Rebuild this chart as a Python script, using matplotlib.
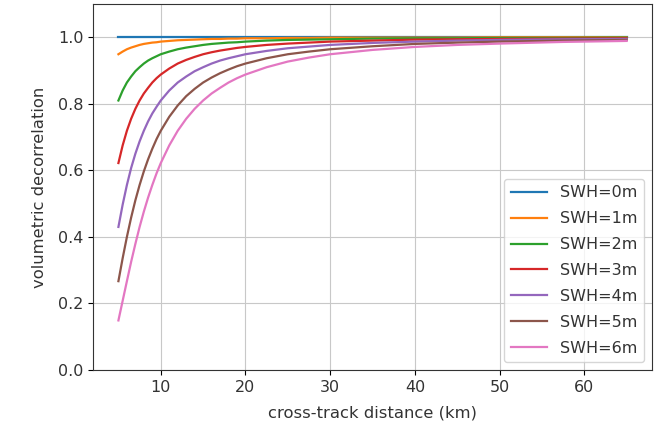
import numpy as np
import matplotlib.pyplot as plt

distance = [5, 5.5, 6, 6.5, 7, 7.5, 8, 8.5, 9, 9.5, 10, 11, 12, 13, 14, 15, 16, 17, 18, 19,
            20, 22.5, 25, 27.5, 30, 35, 40, 45, 50, 57.5, 65]

# volumetric decorrelation for each significant wave height
swh_0 = [1.0] * len(distance)
swh_1 = [0.949, 0.957, 0.964, 0.969, 0.973, 0.977, 0.980, 0.982, 0.984, 0.985, 0.987,
         0.989, 0.991, 0.992, 0.993, 0.994, 0.995, 0.995, 0.996, 0.996,
         0.997, 0.997, 0.998, 0.998, 0.999, 0.999, 0.999, 0.999, 1.0, 1.0, 1.0]
swh_2 = [0.810, 0.840, 0.864, 0.882, 0.898, 0.910, 0.921, 0.930, 0.937, 0.943, 0.949,
         0.957, 0.964, 0.969, 0.973, 0.977, 0.980, 0.982, 0.984, 0.985,
         0.987, 0.990, 0.992, 0.993, 0.994, 0.996, 0.997, 0.997, 0.998, 0.998, 0.999]
swh_3 = [0.622, 0.675, 0.719, 0.755, 0.785, 0.810, 0.831, 0.848, 0.864, 0.877, 0.888,
         0.906, 0.921, 0.932, 0.941, 0.949, 0.955, 0.960, 0.964, 0.968,
         0.971, 0.977, 0.981, 0.984, 0.987, 0.990, 0.993, 0.994, 0.995, 0.996, 0.997]
swh_4 = [0.430, 0.497, 0.556, 0.607, 0.650, 0.687, 0.719, 0.747, 0.771, 0.791, 0.810,
         0.840, 0.864, 0.882, 0.898, 0.910, 0.921, 0.930, 0.937, 0.943,
         0.949, 0.959, 0.967, 0.972, 0.977, 0.983, 0.987, 0.990, 0.992, 0.994, 0.995]
swh_5 = [0.267, 0.336, 0.400, 0.458, 0.510, 0.556, 0.597, 0.633, 0.665, 0.694, 0.719,
         0.761, 0.795, 0.823, 0.845, 0.864, 0.879, 0.892, 0.903, 0.913,
         0.921, 0.937, 0.949, 0.957, 0.964, 0.973, 0.980, 0.984, 0.987, 0.990, 0.992]
swh_6 = [0.149, 0.208, 0.267, 0.325, 0.379, 0.430, 0.476, 0.518, 0.556, 0.591, 0.622,
         0.675, 0.719, 0.755, 0.785, 0.810, 0.831, 0.848, 0.864, 0.877,
         0.888, 0.910, 0.927, 0.939, 0.949, 0.962, 0.971, 0.977, 0.981, 0.986, 0.989]

curves = [swh_0, swh_1, swh_2, swh_3, swh_4, swh_5, swh_6]
labels = [f"SWH={i}m" for i in range(len(curves))]

plt.rcParams["font.size"] = 11.5
plt.rcParams["text.color"] = "#333333"
plt.rcParams["xtick.labelcolor"] = "#333333"
plt.rcParams["ytick.labelcolor"] = "#333333"
plt.rcParams["axes.labelcolor"] = "#333333"
plt.rcParams["axes.edgecolor"] = "#333333"

fig = plt.figure(figsize=(6.62, 4.25), dpi=100)
ax = fig.add_axes([0.1405, 0.1294, 0.8445, 0.8612])

for y, lab in zip(curves, labels):
    ax.plot(distance, y, linewidth=1.6, label=lab)

ax.set_ylim(0, 1.1)
ax.set_xticks([10, 20, 30, 40, 50, 60])
ax.set_yticks([0.0, 0.2, 0.4, 0.6, 0.8, 1.0])
ax.grid(True, color="#c8c8c8")
ax.set_xlabel("cross-track distance (km)", fontsize=11.8, labelpad=8)
ax.set_ylabel("volumetric decorrelation", fontsize=11.8, labelpad=8)
ax.legend(loc="lower right", labelspacing=0.68, handlelength=2.3)

fig.savefig("out.png", dpi=100)
